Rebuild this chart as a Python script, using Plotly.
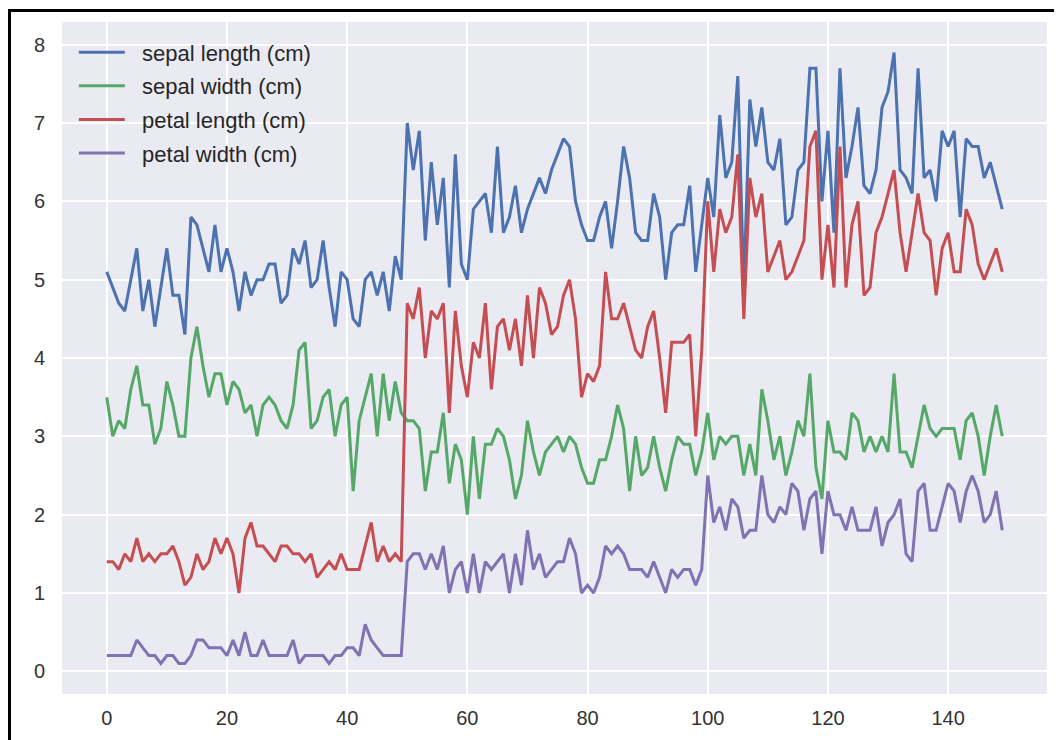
import plotly.graph_objects as go

# iris measurements, one list per column (index 0..149)
sepal_length = [
    5.1, 4.9, 4.7, 4.6, 5.0, 5.4, 4.6, 5.0, 4.4, 4.9, 5.4, 4.8, 4.8, 4.3, 5.8, 5.7, 5.4, 5.1, 5.7, 5.1,
    5.4, 5.1, 4.6, 5.1, 4.8, 5.0, 5.0, 5.2, 5.2, 4.7, 4.8, 5.4, 5.2, 5.5, 4.9, 5.0, 5.5, 4.9, 4.4, 5.1,
    5.0, 4.5, 4.4, 5.0, 5.1, 4.8, 5.1, 4.6, 5.3, 5.0, 7.0, 6.4, 6.9, 5.5, 6.5, 5.7, 6.3, 4.9, 6.6, 5.2,
    5.0, 5.9, 6.0, 6.1, 5.6, 6.7, 5.6, 5.8, 6.2, 5.6, 5.9, 6.1, 6.3, 6.1, 6.4, 6.6, 6.8, 6.7, 6.0, 5.7,
    5.5, 5.5, 5.8, 6.0, 5.4, 6.0, 6.7, 6.3, 5.6, 5.5, 5.5, 6.1, 5.8, 5.0, 5.6, 5.7, 5.7, 6.2, 5.1, 5.7,
    6.3, 5.8, 7.1, 6.3, 6.5, 7.6, 4.9, 7.3, 6.7, 7.2, 6.5, 6.4, 6.8, 5.7, 5.8, 6.4, 6.5, 7.7, 7.7, 6.0,
    6.9, 5.6, 7.7, 6.3, 6.7, 7.2, 6.2, 6.1, 6.4, 7.2, 7.4, 7.9, 6.4, 6.3, 6.1, 7.7, 6.3, 6.4, 6.0, 6.9,
    6.7, 6.9, 5.8, 6.8, 6.7, 6.7, 6.3, 6.5, 6.2, 5.9,
]
sepal_width = [
    3.5, 3.0, 3.2, 3.1, 3.6, 3.9, 3.4, 3.4, 2.9, 3.1, 3.7, 3.4, 3.0, 3.0, 4.0, 4.4, 3.9, 3.5, 3.8, 3.8,
    3.4, 3.7, 3.6, 3.3, 3.4, 3.0, 3.4, 3.5, 3.4, 3.2, 3.1, 3.4, 4.1, 4.2, 3.1, 3.2, 3.5, 3.6, 3.0, 3.4,
    3.5, 2.3, 3.2, 3.5, 3.8, 3.0, 3.8, 3.2, 3.7, 3.3, 3.2, 3.2, 3.1, 2.3, 2.8, 2.8, 3.3, 2.4, 2.9, 2.7,
    2.0, 3.0, 2.2, 2.9, 2.9, 3.1, 3.0, 2.7, 2.2, 2.5, 3.2, 2.8, 2.5, 2.8, 2.9, 3.0, 2.8, 3.0, 2.9, 2.6,
    2.4, 2.4, 2.7, 2.7, 3.0, 3.4, 3.1, 2.3, 3.0, 2.5, 2.6, 3.0, 2.6, 2.3, 2.7, 3.0, 2.9, 2.9, 2.5, 2.8,
    3.3, 2.7, 3.0, 2.9, 3.0, 3.0, 2.5, 2.9, 2.5, 3.6, 3.2, 2.7, 3.0, 2.5, 2.8, 3.2, 3.0, 3.8, 2.6, 2.2,
    3.2, 2.8, 2.8, 2.7, 3.3, 3.2, 2.8, 3.0, 2.8, 3.0, 2.8, 3.8, 2.8, 2.8, 2.6, 3.0, 3.4, 3.1, 3.0, 3.1,
    3.1, 3.1, 2.7, 3.2, 3.3, 3.0, 2.5, 3.0, 3.4, 3.0,
]
petal_length = [
    1.4, 1.4, 1.3, 1.5, 1.4, 1.7, 1.4, 1.5, 1.4, 1.5, 1.5, 1.6, 1.4, 1.1, 1.2, 1.5, 1.3, 1.4, 1.7, 1.5,
    1.7, 1.5, 1.0, 1.7, 1.9, 1.6, 1.6, 1.5, 1.4, 1.6, 1.6, 1.5, 1.5, 1.4, 1.5, 1.2, 1.3, 1.4, 1.3, 1.5,
    1.3, 1.3, 1.3, 1.6, 1.9, 1.4, 1.6, 1.4, 1.5, 1.4, 4.7, 4.5, 4.9, 4.0, 4.6, 4.5, 4.7, 3.3, 4.6, 3.9,
    3.5, 4.2, 4.0, 4.7, 3.6, 4.4, 4.5, 4.1, 4.5, 3.9, 4.8, 4.0, 4.9, 4.7, 4.3, 4.4, 4.8, 5.0, 4.5, 3.5,
    3.8, 3.7, 3.9, 5.1, 4.5, 4.5, 4.7, 4.4, 4.1, 4.0, 4.4, 4.6, 4.0, 3.3, 4.2, 4.2, 4.2, 4.3, 3.0, 4.1,
    6.0, 5.1, 5.9, 5.6, 5.8, 6.6, 4.5, 6.3, 5.8, 6.1, 5.1, 5.3, 5.5, 5.0, 5.1, 5.3, 5.5, 6.7, 6.9, 5.0,
    5.7, 4.9, 6.7, 4.9, 5.7, 6.0, 4.8, 4.9, 5.6, 5.8, 6.1, 6.4, 5.6, 5.1, 5.6, 6.1, 5.6, 5.5, 4.8, 5.4,
    5.6, 5.1, 5.1, 5.9, 5.7, 5.2, 5.0, 5.2, 5.4, 5.1,
]
petal_width = [
    0.2, 0.2, 0.2, 0.2, 0.2, 0.4, 0.3, 0.2, 0.2, 0.1, 0.2, 0.2, 0.1, 0.1, 0.2, 0.4, 0.4, 0.3, 0.3, 0.3,
    0.2, 0.4, 0.2, 0.5, 0.2, 0.2, 0.4, 0.2, 0.2, 0.2, 0.2, 0.4, 0.1, 0.2, 0.2, 0.2, 0.2, 0.1, 0.2, 0.2,
    0.3, 0.3, 0.2, 0.6, 0.4, 0.3, 0.2, 0.2, 0.2, 0.2, 1.4, 1.5, 1.5, 1.3, 1.5, 1.3, 1.6, 1.0, 1.3, 1.4,
    1.0, 1.5, 1.0, 1.4, 1.3, 1.4, 1.5, 1.0, 1.5, 1.1, 1.8, 1.3, 1.5, 1.2, 1.3, 1.4, 1.4, 1.7, 1.5, 1.0,
    1.1, 1.0, 1.2, 1.6, 1.5, 1.6, 1.5, 1.3, 1.3, 1.3, 1.2, 1.4, 1.2, 1.0, 1.3, 1.2, 1.3, 1.3, 1.1, 1.3,
    2.5, 1.9, 2.1, 1.8, 2.2, 2.1, 1.7, 1.8, 1.8, 2.5, 2.0, 1.9, 2.1, 2.0, 2.4, 2.3, 1.8, 2.2, 2.3, 1.5,
    2.3, 2.0, 2.0, 1.8, 2.1, 1.8, 1.8, 1.8, 2.1, 1.6, 1.9, 2.0, 2.2, 1.5, 1.4, 2.3, 2.4, 1.8, 1.8, 2.1,
    2.4, 2.3, 1.9, 2.3, 2.5, 2.3, 1.9, 2.0, 2.3, 1.8,
]

list_series = [
    ("sepal length (cm)", sepal_length, "#4C72B0"),
    ("sepal width (cm)", sepal_width, "#55A868"),
    ("petal length (cm)", petal_length, "#C44E52"),
    ("petal width (cm)", petal_width, "#8172B2"),
]

fig = go.Figure()
for name, values, color in list_series:
    fig.add_trace(
        go.Scatter(
            x=list(range(len(values))),
            y=values,
            # two no-break spaces push the label away from the line sample
            name="\u00a0\u00a0" + name,
            legendgroup=name,
            mode="lines",
            line=dict(color=color, width=3),
        )
    )

axis_style = dict(
    showgrid=True,
    gridcolor="white",
    gridwidth=1.6,
    zeroline=False,
    showline=False,
    ticks="",
    tickfont=dict(family="Liberation Sans, Arial", size=20, color="#333333"),
)
fig.update_xaxes(range=[-7.45, 156.45], dtick=20, ticklabelstandoff=10, automargin=False, **axis_style)
fig.update_yaxes(range=[-0.29, 8.29], dtick=1, ticklabelstandoff=16, automargin=False, **axis_style)

# outer frame, cropped on the right and bottom like the screenshot
fig.add_shape(
    type="rect",
    xref="paper",
    yref="paper",
    x0=-0.0533,
    x1=1.2,
    y0=-0.3,
    y1=1.0171,
    line=dict(color="black", width=3),
    fillcolor="rgba(0,0,0,0)",
    layer="above",
)

# the page body adds 8px around the figure, so the margins are trimmed by that
fig.update_layout(
    width=1062,
    height=740,
    margin=dict(l=54, r=23, t=14, b=54),
    plot_bgcolor="#EAEAF2",
    paper_bgcolor="white",
    showlegend=True,
    legend=dict(
        x=0.012,
        y=0.986,
        xanchor="left",
        yanchor="top",
        bgcolor="rgba(0,0,0,0)",
        font=dict(family="Liberation Sans, Arial", size=22, color="#262626"),
        tracegroupgap=2,
        itemwidth=46,
    ),
)
fig.write_html("out.html")
